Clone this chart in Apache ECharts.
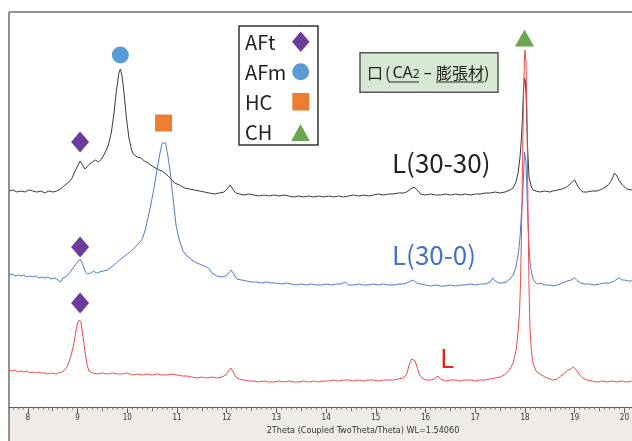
<!DOCTYPE html>
<html>
<head>
<meta charset="utf-8">
<script src="https://cdn.jsdelivr.net/npm/echarts@6/dist/echarts.min.js"></script>
<style>
html,body{margin:0;padding:0;background:#fff;}
#chart{width:632px;height:441px;}
</style>
</head>
<body>
<div id="chart"></div>
<script>
// 2Theta, intensity (arbitrary, offset traces)
var trace3030 = [[7.62,216],[7.70,217],[7.78,215],[7.86,216],[7.94,215],[8.02,217],[8.10,216],[8.18,215],[8.26,216],[8.34,214],[8.42,216],[8.50,215],[8.58,216],[8.66,218],[8.72,221],[8.80,224],[8.88,228],[8.95,236],[9.00,241],[9.05,246],[9.10,242],[9.15,238],[9.19,237],[9.24,243],[9.30,245],[9.36,247],[9.42,245],[9.48,248],[9.55,254],[9.62,262],[9.68,275],[9.73,293],[9.78,316],[9.83,334],[9.86,338],[9.89,332],[9.93,316],[9.98,290],[10.03,270],[10.08,258],[10.12,253],[10.20,250],[10.28,249],[10.34,246],[10.42,244],[10.50,241],[10.60,238],[10.70,236],[10.80,232],[10.86,229],[10.95,224],[11.05,222],[11.15,219],[11.25,218],[11.35,217],[11.45,216],[11.55,215],[11.65,214],[11.75,213],[11.85,214],[11.95,215],[12.02,219],[12.07,222],[12.12,218],[12.18,214],[12.26,213],[12.35,212],[12.45,213],[12.55,212],[12.65,211],[12.75,212],[12.85,211],[12.95,212],[13.05,211],[13.15,212],[13.25,211],[13.35,210],[13.45,211],[13.55,210],[13.65,211],[13.75,210],[13.85,211],[13.95,210],[14.05,211],[14.15,210],[14.25,211],[14.35,210],[14.45,211],[14.55,212],[14.65,211],[14.75,212],[14.85,211],[14.95,212],[15.05,213],[15.15,212],[15.25,213],[15.35,213],[15.45,214],[15.55,214],[15.62,215],[15.70,218],[15.77,220],[15.83,217],[15.90,213],[16.00,212],[16.10,213],[16.20,212],[16.30,212],[16.40,213],[16.50,212],[16.60,213],[16.70,212],[16.80,213],[16.90,212],[17.00,213],[17.10,213],[17.20,214],[17.30,214],[17.40,215],[17.50,214],[17.60,215],[17.70,217],[17.76,219],[17.82,225],[17.86,234],[17.90,250],[17.93,270],[17.95,290],[17.97,318],[17.99,329],[18.01,325],[18.03,300],[18.05,262],[18.08,230],[18.13,220],[18.16,217],[18.22,216],[18.30,215],[18.40,216],[18.50,215],[18.56,216],[18.65,217],[18.75,218],[18.84,220],[18.93,224],[19.00,227],[19.05,222],[19.10,218],[19.16,215],[19.25,215],[19.35,216],[19.45,216],[19.55,218],[19.65,221],[19.72,225],[19.77,230],[19.80,234],[19.85,231],[19.90,226],[19.96,222],[20.05,218],[20.15,217]];

var trace300 = [[7.62,132],[7.68,133],[7.74,131],[7.80,132],[7.86,131],[7.92,132],[7.98,130],[8.04,131],[8.10,130],[8.16,131],[8.22,129],[8.28,130],[8.34,129],[8.40,130],[8.46,128],[8.52,129],[8.58,128],[8.62,130],[8.66,125],[8.70,129],[8.76,130],[8.82,133],[8.88,137],[8.95,142],[9.00,145],[9.05,148],[9.10,143],[9.15,136],[9.20,133],[9.26,134],[9.32,136],[9.38,134],[9.44,135],[9.52,136],[9.60,137],[9.68,140],[9.76,143],[9.84,147],[9.92,150],[10.00,153],[10.08,156],[10.16,160],[10.24,164],[10.30,168],[10.36,177],[10.42,190],[10.48,204],[10.54,220],[10.60,238],[10.65,252],[10.70,264],[10.73,266],[10.77,264],[10.82,250],[10.86,236],[10.90,218],[10.94,200],[10.98,182],[11.04,168],[11.12,156],[11.20,151],[11.30,147],[11.40,144],[11.50,142],[11.60,140],[11.65,138],[11.70,134],[11.80,131],[11.90,130],[11.98,131],[12.04,134],[12.09,137],[12.14,133],[12.20,128],[12.30,127],[12.40,126],[12.50,125],[12.60,125],[12.70,124],[12.80,125],[12.90,124],[13.00,124],[13.10,123],[13.20,124],[13.30,123],[13.40,122],[13.50,123],[13.60,122],[13.70,123],[13.80,122],[13.90,122],[14.00,123],[14.10,122],[14.20,123],[14.30,123],[14.38,125],[14.45,122],[14.55,122],[14.65,123],[14.75,122],[14.85,122],[14.95,123],[15.05,122],[15.15,123],[15.25,122],[15.35,122],[15.45,123],[15.55,123],[15.62,124],[15.70,126],[15.76,127],[15.82,124],[15.90,123],[16.00,122],[16.10,121],[16.20,122],[16.30,121],[16.40,121],[16.50,122],[16.60,121],[16.70,122],[16.80,122],[16.90,123],[17.00,122],[17.10,123],[17.20,123],[17.30,125],[17.35,129],[17.40,126],[17.48,124],[17.55,124],[17.62,125],[17.70,128],[17.76,132],[17.82,140],[17.87,155],[17.90,170],[17.93,195],[17.95,205],[17.97,230],[17.99,255],[18.00,257],[18.02,245],[18.04,215],[18.06,185],[18.08,160],[18.11,140],[18.16,128],[18.20,125],[18.25,123],[18.30,124],[18.40,122],[18.50,122],[18.56,121],[18.65,122],[18.75,124],[18.85,126],[18.93,127],[19.00,129],[19.06,126],[19.12,124],[19.20,123],[19.30,123],[19.40,122],[19.50,123],[19.60,124],[19.70,124],[19.80,126],[19.85,128],[19.90,129],[19.95,127],[20.00,127],[20.08,126],[20.15,126]];

var traceL = [[7.62,37],[7.68,36],[7.74,37],[7.80,35],[7.86,36],[7.92,35],[7.98,36],[8.04,34],[8.10,35],[8.16,34],[8.22,35],[8.28,34],[8.34,34],[8.40,33],[8.46,34],[8.50,32],[8.56,33],[8.62,34],[8.68,35],[8.74,37],[8.80,41],[8.86,50],[8.92,62],[8.96,74],[9.00,84],[9.04,87],[9.07,84],[9.11,70],[9.15,55],[9.19,42],[9.23,36],[9.30,34],[9.40,33],[9.50,34],[9.60,33],[9.70,34],[9.80,33],[9.90,33],[10.00,34],[10.10,32],[10.20,33],[10.30,32],[10.40,33],[10.50,32],[10.60,33],[10.70,32],[10.80,32],[10.90,33],[11.00,32],[11.10,31],[11.20,31],[11.30,30],[11.40,29],[11.50,30],[11.60,29],[11.70,30],[11.80,29],[11.90,30],[11.98,32],[12.04,36],[12.08,39],[12.13,35],[12.18,30],[12.25,28],[12.35,27],[12.45,26],[12.55,26],[12.65,25],[12.75,26],[12.85,25],[12.95,25],[13.05,26],[13.15,25],[13.25,26],[13.35,25],[13.45,25],[13.55,26],[13.65,25],[13.75,26],[13.85,25],[13.95,26],[14.05,26],[14.15,27],[14.25,26],[14.35,27],[14.45,27],[14.55,26],[14.65,27],[14.75,26],[14.85,27],[14.95,27],[15.05,26],[15.15,27],[15.25,27],[15.35,27],[15.45,28],[15.55,29],[15.62,33],[15.67,42],[15.72,48],[15.75,50],[15.79,46],[15.84,38],[15.88,32],[15.95,28],[16.02,27],[16.10,27],[16.18,28],[16.25,31],[16.30,28],[16.40,26],[16.50,27],[16.60,27],[16.70,26],[16.80,27],[16.90,27],[17.00,26],[17.10,27],[17.20,27],[17.30,28],[17.40,29],[17.50,30],[17.58,32],[17.63,34],[17.70,38],[17.76,44],[17.80,52],[17.83,60],[17.86,75],[17.89,95],[17.91,125],[17.93,175],[17.95,240],[17.97,310],[17.99,350],[18.00,357],[18.02,345],[18.04,290],[18.06,200],[18.08,120],[18.10,80],[18.13,55],[18.16,44],[18.22,36],[18.30,33],[18.40,30],[18.50,28],[18.56,27],[18.65,28],[18.72,31],[18.80,34],[18.86,37],[18.92,38],[18.97,40],[19.00,42],[19.04,37],[19.10,32],[19.16,29],[19.25,27],[19.35,26],[19.45,25],[19.55,26],[19.65,25],[19.75,26],[19.85,25],[19.95,26],[20.05,25],[20.15,26]];

// phase markers
var aftPts = [[9.05,265],[9.05,160],[9.05,104]];
var afmPts = [[9.86,352]];
var hcPts = [[10.73,284]];
var chPts = [[17.99,369]];

var majorTicks = [8,9,10,11,12,13,14,15,16,17,18,19,20];
var halfTicks = [];
for (var i = 7; i <= 19; i++) halfTicks.push(i + 0.5);
var minorTicks = [];
for (var j = 77; j <= 201; j++) minorTicks.push(j / 10);

var narrow = "'Liberation Sans Narrow','DejaVu Sans Condensed','Arial Narrow',sans-serif";
var jp = "'Noto Sans CJK JP',sans-serif";
var latin = "'Noto Sans',sans-serif";

var chart = echarts.init(document.getElementById('chart'));

function lineSeries(data, color) {
    return {
        type: 'line', data: data, symbol: 'none', smooth: false,
        lineStyle: {color: color, width: 1}, z: 3, animation: false
    };
}
function markSeries(data, symbol, size, color) {
    return {
        type: 'scatter', data: data, symbol: symbol, symbolSize: size,
        itemStyle: {color: color, opacity: 1}, z: 5, animation: false
    };
}

var option = {
    backgroundColor: '#fff',
    animation: false,
    grid: {left: 9, right: 0, top: 12, bottom: 34},
    xAxis: [
        {
            type: 'value', min: 7.62, max: 20.15, position: 'bottom',
            axisLine: {lineStyle: {color: '#555', width: 1}},
            axisTick: {customValues: majorTicks, length: 6, lineStyle: {color: '#555'}},
            axisLabel: {customValues: majorTicks, fontSize: 8, color: '#333', margin: 7, fontFamily: narrow},
            splitLine: {show: false}
        },
        {
            type: 'value', min: 7.62, max: 20.15, position: 'bottom',
            axisLine: {show: false},
            axisTick: {customValues: halfTicks, length: 4, lineStyle: {color: '#666'}},
            axisLabel: {show: false},
            splitLine: {show: false}
        },
        {
            type: 'value', min: 7.62, max: 20.15, position: 'bottom',
            axisLine: {show: false},
            axisTick: {customValues: minorTicks, length: 2.5, lineStyle: {color: '#777'}},
            axisLabel: {show: false},
            splitLine: {show: false}
        }
    ],
    yAxis: {type: 'value', min: 0, max: 395, show: false},
    series: [
        lineSeries(trace3030, '#3a3a3a'),
        lineSeries(trace300, '#4f7bc9'),
        lineSeries(traceL, '#f04a4a'),
        markSeries(aftPts, 'diamond', [18, 21], '#6a3d9c'),
        markSeries(afmPts, 'circle', 17, '#5b9bd5'),
        markSeries(hcPts, 'rect', 17, '#ed7d31'),
        markSeries(chPts, 'triangle', [19, 17], '#6aa84f')
    ],
    graphic: [
        {type: 'rect', z: -10, shape: {x: 9, y: 407, width: 623, height: 34}, style: {fill: '#efece7'}},
        {type: 'line', z: 10, shape: {x1: 9, y1: 12, x2: 9, y2: 441}, style: {stroke: '#6e6e6e', lineWidth: 1.5}},
        {type: 'line', z: 10, shape: {x1: 9, y1: 12, x2: 632, y2: 12}, style: {stroke: '#6e6e6e', lineWidth: 1.5}},
        {type: 'text', z: 10, x: 363, y: 431, style: {text: '2Theta (Coupled TwoTheta/Theta) WL=1.54060', font: '9px ' + narrow, fill: '#333', align: 'center', verticalAlign: 'middle'}},

        // legend box
        {type: 'rect', z: 10, shape: {x: 239, y: 26, width: 79, height: 119}, style: {fill: '#fff', stroke: '#333', lineWidth: 1.5}},
        {type: 'text', z: 11, x: 245, y: 42, style: {text: 'AFt', font: '20px ' + jp, fill: '#222', verticalAlign: 'middle'}},
        {type: 'text', z: 11, x: 245, y: 72, style: {text: 'AFm', font: '20px ' + jp, fill: '#222', verticalAlign: 'middle'}},
        {type: 'text', z: 11, x: 245, y: 102, style: {text: 'HC', font: '20px ' + jp, fill: '#222', verticalAlign: 'middle'}},
        {type: 'text', z: 11, x: 245, y: 132, style: {text: 'CH', font: '20px ' + jp, fill: '#222', verticalAlign: 'middle'}},
        {type: 'polygon', z: 11, shape: {points: [[300.7, 31.5], [309.5, 41.7], [300.7, 52], [292, 41.7]]}, style: {fill: '#6a3d9c'}},
        {type: 'circle', z: 11, shape: {cx: 300.7, cy: 71.7, r: 8.5}, style: {fill: '#5b9bd5'}},
        {type: 'rect', z: 11, shape: {x: 292.3, y: 93, width: 17, height: 17.5}, style: {fill: '#ed7d31'}},
        {type: 'polygon', z: 11, shape: {points: [[300.5, 124], [309.8, 141], [291.2, 141]]}, style: {fill: '#6aa84f'}},

        // CA2 box
        {type: 'rect', z: 10, shape: {x: 360, y: 52.7, width: 138, height: 39.6}, style: {fill: '#d6e9d2', stroke: '#555', lineWidth: 1.5}},
        {type: 'text', z: 11, x: 367, y: 73, style: {
            text: '{a|口}{p|(}{b|CA}{s|2}{b| – }{a|膨張材)}',
            verticalAlign: 'middle',
            rich: {
                a: {font: '16px ' + jp, fill: '#222', verticalAlign: 'middle'},
                p: {font: '16px ' + jp, fill: '#222', verticalAlign: 'middle', padding: [0, 2, 0, 2]},
                b: {font: '16px ' + latin, fill: '#222', verticalAlign: 'middle'},
                s: {font: '12px ' + latin, fill: '#222', verticalAlign: 'bottom', padding: [4, 0, 0, 0]}
            }
        }},
        {type: 'line', z: 11, shape: {x1: 389, y1: 82, x2: 419, y2: 82}, style: {stroke: '#222', lineWidth: 1}},
        {type: 'line', z: 11, shape: {x1: 436, y1: 82, x2: 484, y2: 82}, style: {stroke: '#222', lineWidth: 1}},

        // trace labels
        {type: 'text', z: 11, x: 392, y: 163, style: {text: 'L(30-30)', font: '26px ' + jp, fill: '#222', verticalAlign: 'middle'}},
        {type: 'text', z: 11, x: 392, y: 255, style: {text: 'L(30-0)', font: '26px ' + jp, fill: '#4472c4', verticalAlign: 'middle'}},
        {type: 'text', z: 11, x: 440, y: 358, style: {text: 'L', font: '26px ' + jp, fill: '#e82020', verticalAlign: 'middle'}}
    ]
};
chart.setOption(option);
</script>
</body>
</html>
